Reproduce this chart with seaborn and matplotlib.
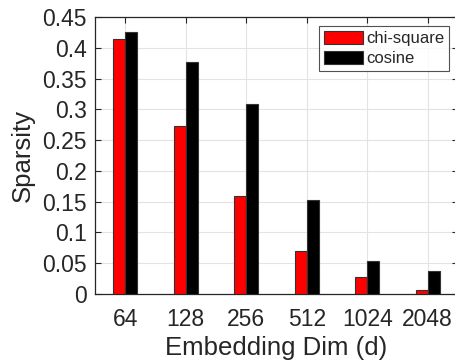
import matplotlib
matplotlib.use("Agg")
import matplotlib.pyplot as plt
import seaborn as sns
import pandas as pd

dims = ["64", "128", "256", "512", "1024", "2048"]
chi_square = [0.414, 0.273, 0.160, 0.070, 0.028, 0.0065]
cosine = [0.425, 0.377, 0.309, 0.153, 0.054, 0.037]
series_names = ["chi-square", "cosine"]
colors = ["#ff0000", "#000000"]
yticks = [0, 0.05, 0.1, 0.15, 0.2, 0.25, 0.3, 0.35, 0.4, 0.45]
ytick_labels = ["0", "0.05", "0.1", "0.15", "0.2", "0.25", "0.3", "0.35", "0.4", "0.45"]

df = pd.DataFrame({
    "dim": dims * 2,
    "value": chi_square + cosine,
    "metric": [series_names[0]] * len(dims) + [series_names[1]] * len(dims),
})

sns.set_style("white")
plt.rcParams["font.family"] = ["Liberation Sans", "DejaVu Sans"]

fig = plt.figure(figsize=(4.56, 3.63), dpi=100)
W, H = 456, 363
ax = fig.add_axes([95 / W, 1 - 294 / H, (458 - 95) / W, (294 - 17) / H])

sns.barplot(data=df, x="dim", y="value", hue="metric", order=dims,
            hue_order=series_names, palette=colors, width=0.4, saturation=1,
            edgecolor="#333333", linewidth=0.8, ax=ax, zorder=3)

ax.set_xlim(-0.5, 5.5)
ax.set_ylim(0, 0.45)
ax.set_yticks(yticks)
ax.set_yticklabels(ytick_labels)
ax.grid(True, color="#e3e3e3", linewidth=0.8, zorder=0)
ax.set_axisbelow(True)
for s in ax.spines.values():
    s.set_color("#262626")
    s.set_linewidth(0.9)
ax.tick_params(axis="both", direction="in", length=4, width=0.8, color="#262626",
               labelsize=16.5, labelcolor="#262626", top=True, right=True,
               left=True, bottom=True, pad=6)
ax.tick_params(axis="x", pad=10)
ax.set_xlabel("Embedding Dim (d)", fontsize=18.5, color="#262626", labelpad=4)
ax.set_ylabel("Sparsity", fontsize=18.5, color="#262626", labelpad=5)

leg = ax.legend(loc="upper right", bbox_to_anchor=(449 / W, 1 - 26 / H),
                bbox_transform=fig.transFigure, fontsize=12, frameon=True,
                fancybox=False, edgecolor="#262626", handlelength=2.3,
                handleheight=0.85, handletextpad=0.2, borderpad=0.3,
                labelspacing=0.25, borderaxespad=0)
leg.get_frame().set_linewidth(0.8)
for t in leg.get_texts():
    t.set_color("#262626")

fig.savefig("out.png", dpi=100)
